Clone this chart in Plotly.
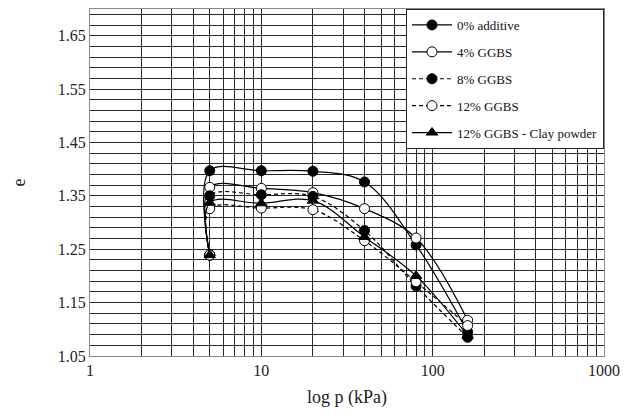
import plotly.graph_objects as go

pressure = [5, 5, 10, 20, 40, 80, 160]
e_0_additive = [1.239, 1.397, 1.397, 1.396, 1.376, 1.258, 1.095]
e_4_ggbs = [1.239, 1.366, 1.364, 1.356, 1.326, 1.271, 1.117]
e_8_ggbs = [1.239, 1.350, 1.352, 1.349, 1.285, 1.181, 1.085]
e_12_ggbs = [1.239, 1.326, 1.327, 1.324, 1.266, 1.189, 1.107]
e_12_ggbs_clay = [1.239, 1.337, 1.336, 1.341, 1.273, 1.200, 1.088]

names = ["0% additive", "4% GGBS", "8% GGBS", "12% GGBS", "12% GGBS - Clay powder"]
series = [e_0_additive, e_4_ggbs, e_8_ggbs, e_12_ggbs, e_12_ggbs_clay]
styles = [
    dict(dash="solid", symbol="circle", fill="black"),
    dict(dash="solid", symbol="circle", fill="white"),
    dict(dash="4px,3px", symbol="circle", fill="black"),
    dict(dash="4px,3px", symbol="circle", fill="white"),
    dict(dash="solid", symbol="triangle-up", fill="black"),
]

y_ticks = [1.05, 1.15, 1.25, 1.35, 1.45, 1.55, 1.65]
x_ticks = [1, 10, 100, 1000]
x_minor = [m * 10 ** k for k in range(3) for m in range(2, 10)]

fig = go.Figure()
for i, (name, ys, st) in enumerate(zip(names, series, styles)):
    fig.add_trace(go.Scatter(
        x=pressure, y=ys, name=name, mode="lines+markers",
        line=dict(color="black", width=1.2, dash=st["dash"], shape="spline", smoothing=1),
        marker=dict(symbol=st["symbol"], size=10, color=st["fill"],
                    line=dict(color="black", width=1)),
        legendgroup=str(i),
    ))

font_family = "Liberation Serif"
grid_color = "#2a2a2a"

fig.update_layout(
    width=640, height=418,
    margin=dict(l=82, r=44, t=1, b=70),
    paper_bgcolor="white", plot_bgcolor="white",
    font=dict(family=font_family, size=16, color="#222"),
    showlegend=True,
    legend=dict(
        x=1, y=1, xanchor="right", yanchor="top",
        bgcolor="white", bordercolor="#222", borderwidth=1,
        font=dict(family=font_family, size=13, color="#111"),
        tracegroupgap=7,
        itemwidth=40,
    ),
    xaxis=dict(
        type="log", range=[0, 3],
        tickmode="array", tickvals=x_ticks, ticktext=[str(v) for v in x_ticks],
        showgrid=True, gridcolor=grid_color, gridwidth=1,
        minor=dict(tickmode="array", tickvals=x_minor, showgrid=True,
                   gridcolor=grid_color, gridwidth=1, ticklen=0),
        showline=True, linecolor="#888", linewidth=1, mirror=True,
        ticks="", zeroline=False,
        title=dict(text="log p (kPa)", font=dict(size=18), standoff=12),
        tickfont=dict(size=16),
    ),
    yaxis=dict(
        range=[1.05, 1.70],
        tickmode="array", tickvals=y_ticks, ticktext=[f"{v:.2f}" for v in y_ticks],
        showgrid=True, gridcolor=grid_color, gridwidth=1,
        minor=dict(tick0=1.05, dtick=0.02, showgrid=True,
                   gridcolor=grid_color, gridwidth=1, ticklen=0),
        showline=True, linecolor="#888", linewidth=1, mirror=True,
        ticks="", zeroline=False,
        title=dict(text="e", font=dict(size=18), standoff=27),
        tickfont=dict(size=16),
    ),
)

fig.write_html("out.html")
